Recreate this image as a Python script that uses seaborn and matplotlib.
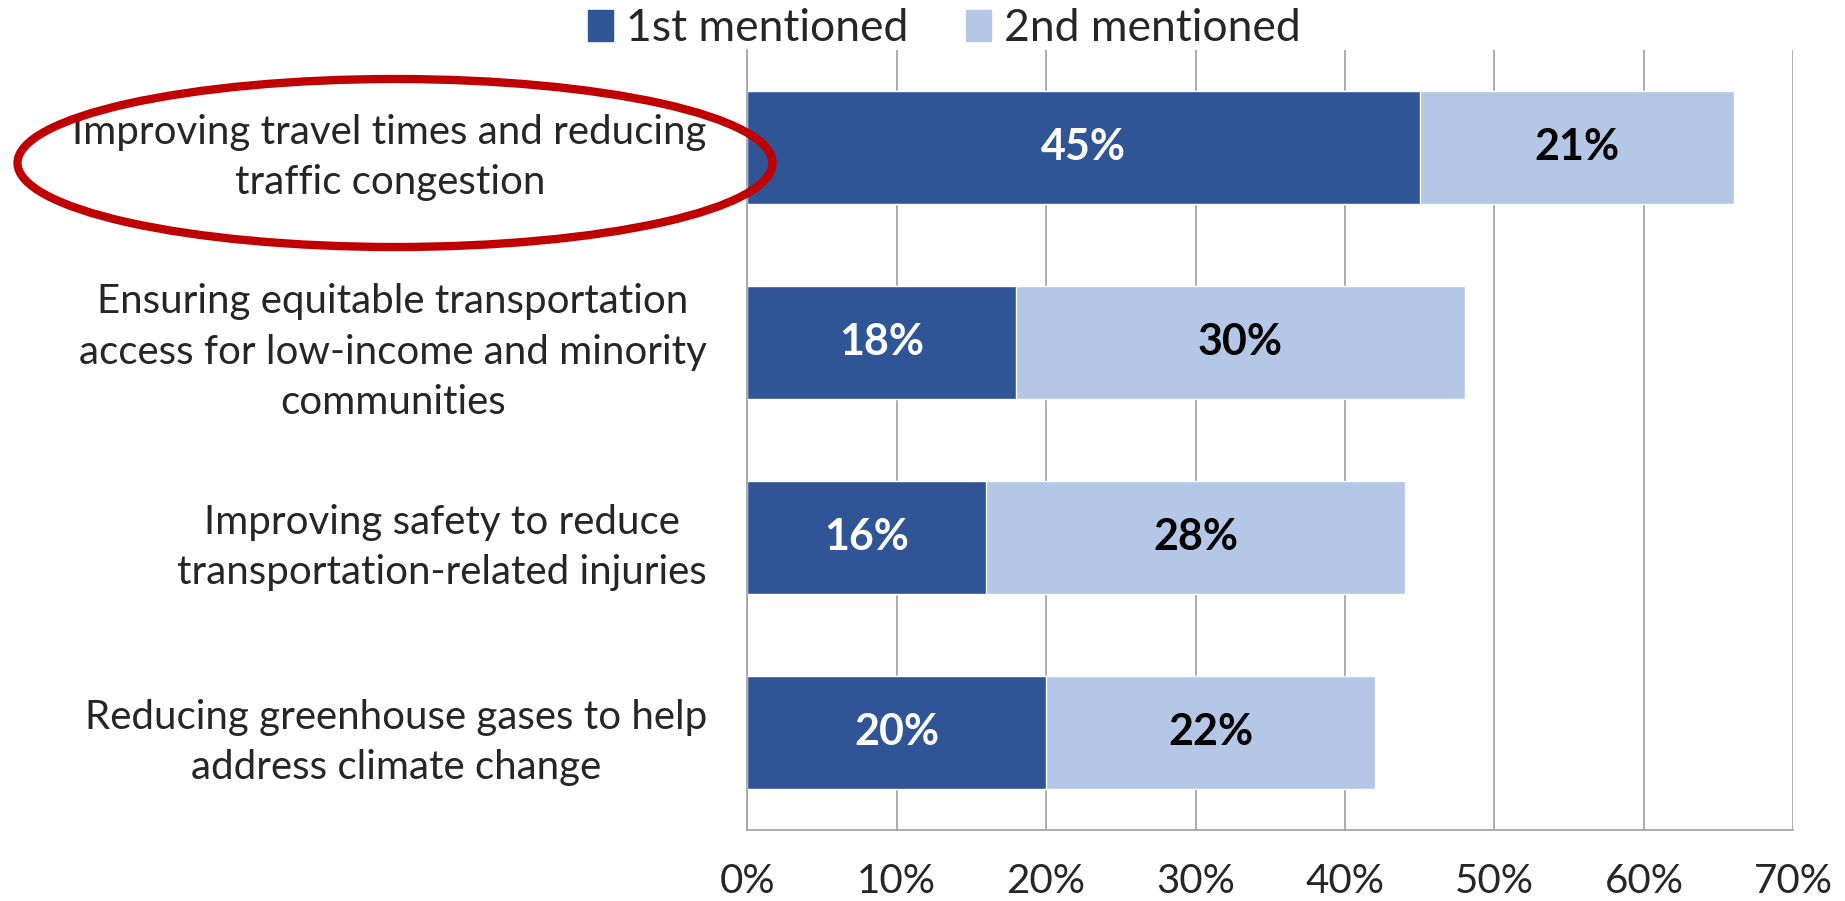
import matplotlib
matplotlib.use("Agg")
import matplotlib.pyplot as plt
import seaborn as sns
import pandas as pd
from matplotlib.patches import Ellipse, Patch

# Datos
categorias = [
    "Improving travel times and reducing\ntraffic congestion",
    "Ensuring equitable transportation\naccess for low-income and minority\ncommunities",
    "Improving safety to reduce\ntransportation-related injuries",
    "Reducing greenhouse gases to help\naddress climate change",
]
primero = [45, 18, 16, 20]
segundo = [21, 30, 28, 22]
series = ["1st mentioned", "2nd mentioned"]
ticks = [0, 10, 20, 30, 40, 50, 60, 70]

oscuro = "#2F5597"
claro = "#B4C7E7"

df = pd.DataFrame({"cat": categorias, "first": primero, "second": segundo})
df["total"] = df["first"] + df["second"]

sns.set_theme(style="white")
plt.rcParams["font.family"] = ["Lato", "DejaVu Sans"]

fig = plt.figure(figsize=(18.45, 9.01), dpi=100)
ax = fig.add_axes([0.405, 0.079, 0.567, 0.866])

# Barras apiladas: total en claro y el primero encima en oscuro
sns.barplot(data=df, x="total", y="cat", orient="h", color=claro, width=0.58,
            saturation=1, ax=ax)
sns.barplot(data=df, x="first", y="cat", orient="h", color=oscuro, width=0.58,
            saturation=1, ax=ax)

for i, (f, s) in enumerate(zip(primero, segundo)):
    ax.text(f / 2, i, f"{f}%", ha="center", va="center", color="white",
            fontsize=31, fontweight="bold")
    ax.text(f + s / 2, i, f"{s}%", ha="center", va="center", color="black",
            fontsize=31, fontweight="bold")

ax.set_xlim(0, 70)
ax.set_ylim(3.5, -0.5)
ax.set_xticks(ticks)
ax.set_xticklabels([f"{t}%" for t in ticks], fontsize=29)
ax.tick_params(axis="x", length=0, pad=24)
ax.tick_params(axis="y", length=0, pad=29, labelsize=29)
for lab in ax.get_yticklabels():
    lab.set_multialignment("center")
    lab.set_linespacing(1.45)
ax.set_xlabel("")
ax.set_ylabel("")

ax.xaxis.grid(True, color="#A6A6A6", linewidth=1.3)
ax.set_axisbelow(True)
for lado in ["top", "right"]:
    ax.spines[lado].set_visible(False)
for lado in ["left", "bottom"]:
    ax.spines[lado].set_color("#A6A6A6")
    ax.spines[lado].set_linewidth(1.3)

handles = [Patch(color=oscuro), Patch(color=claro)]
fig.legend(handles, series, loc="center", bbox_to_anchor=(0.512, 0.968),
           ncol=2, frameon=False, fontsize=32, handlelength=0.55,
           handleheight=0.7, handletextpad=0.3, columnspacing=1.3)

# Ovalo rojo resaltando la primera categoria
ovalo = Ellipse((395 / 1845, 1 - 163 / 901), 755 / 1845, 168 / 901,
                transform=fig.transFigure, fill=False, edgecolor="#C00000",
                linewidth=6, clip_on=False)
fig.patches.append(ovalo)

fig.savefig("out.png", dpi=100)
